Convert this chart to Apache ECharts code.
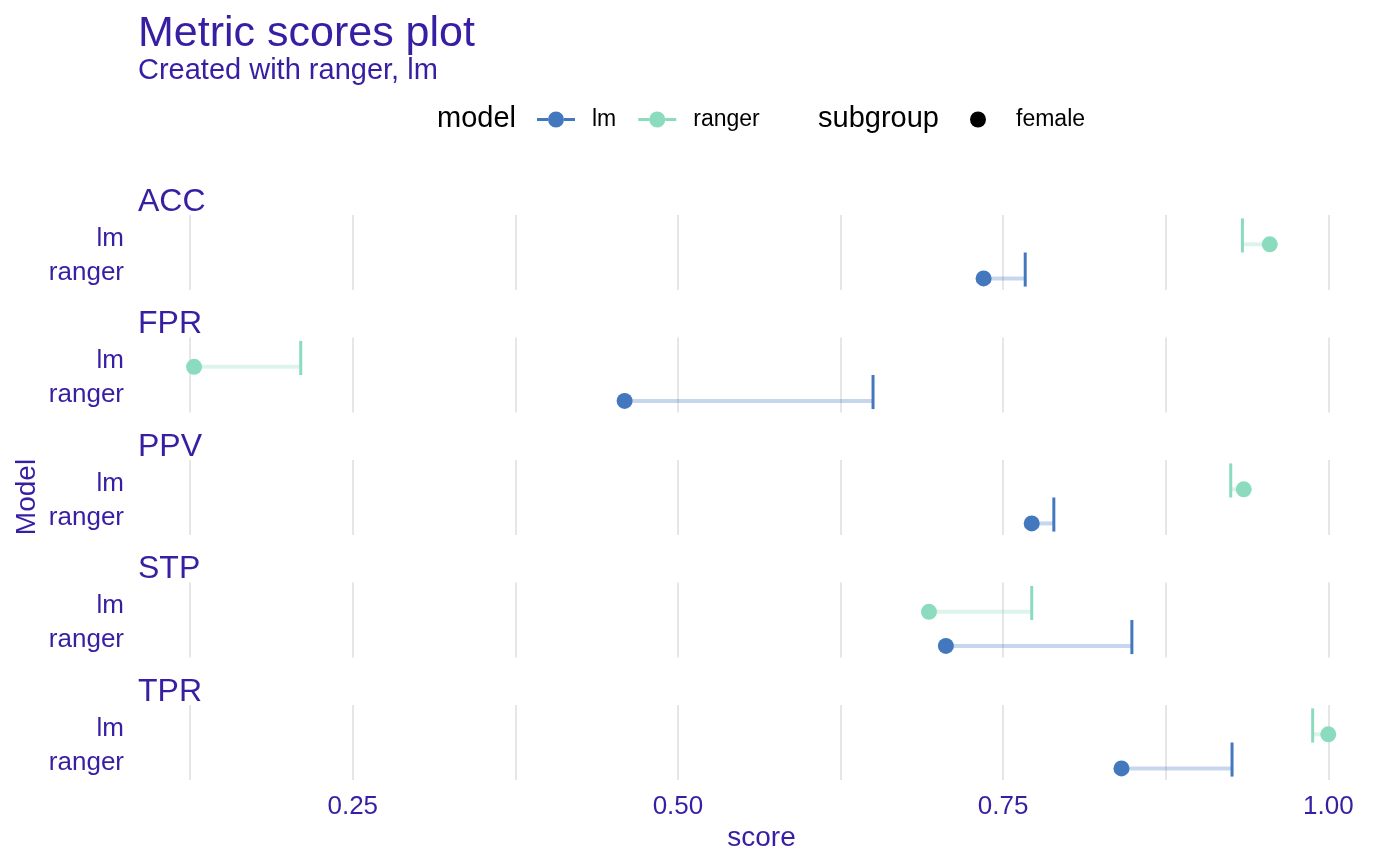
<!DOCTYPE html>
<html>
<head>
<meta charset="utf-8">
<script src="https://cdn.jsdelivr.net/npm/echarts@6/dist/echarts.min.js"></script>
<style>
  html, body { margin: 0; background: #fff; }
  #chart { width: 1400px; height: 866px; }
</style>
</head>
<body>
<div id="chart"></div>
<script>
// --- data ---
var metrics = ['ACC', 'FPR', 'PPV', 'STP', 'TPR'];
var rowLabels = ['ranger', 'lm'];            // y = 1, y = 2
var rangerScore = [0.955, 0.128, 0.935, 0.693, 1.000];
var rangerRef   = [0.934, 0.210, 0.925, 0.772, 0.988];
var lmScore     = [0.735, 0.459, 0.772, 0.706, 0.841];
var lmRef       = [0.767, 0.650, 0.789, 0.849, 0.926];
var xTickLabels = [0.25, 0.50, 0.75, 1.00];
var xGridValues = [0.125, 0.25, 0.375, 0.5, 0.625, 0.75, 0.875, 1.0];

(function() {
  var ink = '#371ea3';
  var blue = '#4378bf';
  var green = '#8bdcbe';
  var gridColor = '#e6e6e6';
  var font = '"Liberation Sans", Arial, sans-serif';
  var dodge = 0.26;

  var chart = echarts.init(document.getElementById('chart'), null, { renderer: 'canvas' });

  var grids = [], xAxes = [], yAxes = [], series = [], titles = [];
  var panelTop = 215, panelPitch = 122.5, panelH = 75;

  titles.push({
    text: 'Metric scores plot',
    subtext: 'Created with ranger, lm',
    left: 138, top: 13, padding: 0, itemGap: 0,
    textStyle: { color: ink, fontSize: 43, fontWeight: 'normal', fontFamily: font },
    subtextStyle: { color: ink, fontSize: 29, fontFamily: font }
  });

  function segment(color) {
    return function(params, api) {
      var pt = api.coord([api.value(0), api.value(2)]);
      var end = api.coord([api.value(1), api.value(2)]);
      var mid = api.coord([api.value(1), api.value(3)]);
      var h = api.size([0, 1])[1];
      return {
        type: 'group',
        children: [
          { type: 'line', shape: { x1: pt[0], y1: pt[1], x2: end[0], y2: end[1] },
            style: { stroke: echarts.color.modifyAlpha(color, 0.3), lineWidth: 4 } },
          { type: 'line', shape: { x1: mid[0], y1: mid[1] - h / 2, x2: mid[0], y2: mid[1] + h / 2 },
            style: { stroke: color, lineWidth: 3 } },
          { type: 'circle', shape: { cx: pt[0], cy: pt[1], r: 8 }, style: { fill: color } }
        ]
      };
    };
  }

  metrics.forEach(function(m, i) {
    var top = panelTop + i * panelPitch;
    var last = i === metrics.length - 1;
    grids.push({ left: 138, right: 15, top: top, height: panelH });
    titles.push({
      text: m, left: 138, top: top - 29, padding: 0,
      textStyle: { color: ink, fontSize: 32, fontWeight: 'normal', fontFamily: font }
    });
    xAxes.push({
      type: 'value', gridIndex: i, min: 0.0849, max: 1.0436,
      axisLine: { show: false },
      axisTick: { show: false, customValues: xGridValues },
      splitLine: { show: true, lineStyle: { color: gridColor, width: 2 } },
      axisLabel: {
        show: last, customValues: xTickLabels, margin: 14,
        color: ink, fontSize: 26, fontFamily: font,
        formatter: function(v) { return v.toFixed(2); }
      },
      name: last ? 'score' : '',
      nameLocation: 'middle', nameGap: 44,
      nameTextStyle: { color: ink, fontSize: 28, fontFamily: font }
    });
    yAxes.push({
      type: 'value', gridIndex: i, min: 0.4, max: 2.6,
      axisLine: { show: false }, axisTick: { show: false }, splitLine: { show: false },
      axisLabel: {
        customValues: [1, 2], margin: 14, verticalAlign: 'top', lineHeight: 6,
        color: ink, fontSize: 26, fontFamily: font,
        formatter: function(v) { return rowLabels[Math.round(v) - 1]; }
      }
    });
    series.push({
      name: 'lm', type: 'custom', xAxisIndex: i, yAxisIndex: i,
      itemStyle: { color: blue },
      renderItem: segment(blue),
      encode: { x: [0, 1], y: [2, 3] },
      data: [[lmScore[i], lmRef[i], 1 - dodge, 1]]
    });
    series.push({
      name: 'ranger', type: 'custom', xAxisIndex: i, yAxisIndex: i,
      itemStyle: { color: green },
      renderItem: segment(green),
      encode: { x: [0, 1], y: [2, 3] },
      data: [[rangerScore[i], rangerRef[i], 2 - dodge, 2]]
    });
  });

  // subgroup key only
  series.push({ name: 'female', type: 'scatter', xAxisIndex: 0, yAxisIndex: 0, data: [], itemStyle: { color: '#000', opacity: 1 } });

  var keyIcon = 'path://M0,6.5H11V9.5H0Z M27,6.5H38V9.5H27Z M11,8A8,8 0 1,0 27,8A8,8 0 1,0 11,8Z';

  chart.setOption({
    animation: false,
    title: titles,
    grid: grids,
    xAxis: xAxes,
    yAxis: yAxes,
    legend: [
      {
        data: ['lm', 'ranger'], left: 537, top: 108, padding: 0,
        itemWidth: 38, itemHeight: 16, itemGap: 22, icon: keyIcon, selectedMode: false,
        textStyle: { color: '#000', fontSize: 23, fontFamily: font, padding: [0, 0, 0, 12] }
      },
      {
        data: ['female'], left: 970, top: 108, padding: 0,
        itemWidth: 16, itemHeight: 16, icon: 'circle', selectedMode: false,
        itemStyle: { color: '#000', opacity: 1 },
        textStyle: { color: '#000', fontSize: 23, fontFamily: font, padding: [0, 0, 0, 25] }
      }
    ],
    graphic: [
      { type: 'text', left: 437, top: 104, style: { text: 'model', fill: '#000', font: '29px ' + font } },
      { type: 'text', left: 818, top: 104, style: { text: 'subgroup', fill: '#000', font: '29px ' + font } },
      { type: 'text', x: 27, y: 497, rotation: Math.PI / 2,
        style: { text: 'Model', fill: ink, font: '28px ' + font, align: 'center', verticalAlign: 'middle' } }
    ],
    series: series
  });

  window.addEventListener('resize', function() { chart.resize(); });
})();
</script>
</body>
</html>
